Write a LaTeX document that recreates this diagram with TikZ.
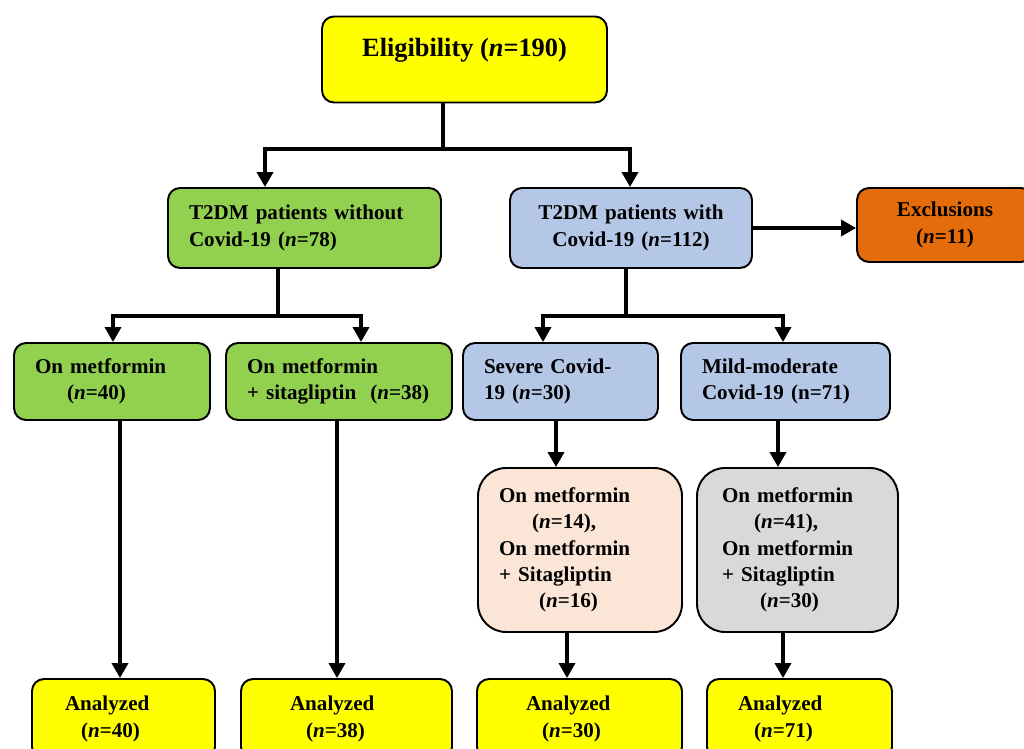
\documentclass[tikz,border=0pt]{standalone}
\usepackage{fontspec}
\setmainfont{Liberation Serif}
\usetikzlibrary{arrows.meta}
\definecolor{eligyellow}{HTML}{FFFF00}
\definecolor{nocovgreen}{HTML}{92D050}
\definecolor{covblue}{HTML}{B4C7E7}
\definecolor{exclorange}{HTML}{E46C0A}
\definecolor{severepeach}{HTML}{FBE5D6}
\definecolor{mildgrey}{HTML}{D9D9D9}
\begin{document}
\begin{tikzpicture}
		[x=0.02cm, y=-0.02cm,
		box/.style={draw, line width=1.1pt, rounded corners=0.24cm, inner xsep=0.42cm, inner ysep=2pt, align=left, font=\fontsize{12}{15}\selectfont\bfseries},
		result/.style={box, fill=eligyellow, minimum height=1.6cm},
		line/.style={line width=2.6pt, line join=miter},
		arr/.style={line, -{Triangle[width=0.32cm, length=0.3cm]}}]
		\useasboundingbox (0,0) rectangle (1024,749);
		
		\node[box, fill=eligyellow, minimum width=5.7cm, minimum height=1.72cm, align=center, inner xsep=0pt, font=\fontsize{15}{18}\selectfont\bfseries, text height=11pt, text depth=14.6pt] (elig) at (464.5,59.5) {Eligibility (\textit{n}=190)};
		
		\node[box, fill=nocovgreen, minimum width=5.46cm, minimum height=1.6cm, text width=4.62cm] (nocov) at (304.5,228) {T2DM patients without\\Covid-19 (\textit{n}=78)};
		\node[box, fill=covblue, minimum width=4.84cm, minimum height=1.6cm, text width=4cm, align=center] (cov) at (631,228) {T2DM patients with\\Covid-19 (\textit{n}=112)};
		\node[box, fill=exclorange, minimum width=3.52cm, minimum height=1.48cm, text width=2.68cm, align=center] (excl) at (945,225) {Exclusions\\(\textit{n}=11)};
		
		\node[box, fill=nocovgreen, minimum width=3.92cm, minimum height=1.54cm, text width=3.08cm] (met) at (112,381.5) {On metformin\\\hspace*{0.64cm}(\textit{n}=40)};
		\node[box, fill=nocovgreen, minimum width=4.52cm, minimum height=1.54cm, text width=3.68cm] (metsita) at (339,381.5) {On metformin\\+ sitagliptin\ \ (\textit{n}=38)};
		\node[box, fill=covblue, minimum width=3.9cm, minimum height=1.54cm, text width=3.06cm] (severe) at (560.5,381.5) {Severe Covid-\\19 (\textit{n}=30)};
		\node[box, fill=covblue, minimum width=4.18cm, minimum height=1.54cm, text width=3.34cm] (mild) at (785.5,381.5) {Mild-moderate\\Covid-19 (n=71)};
		
		\node[box, fill=severepeach, rounded corners=0.56cm, minimum width=4.08cm, minimum height=3.28cm, text width=3.24cm] (severetx) at (580,550) {On metformin\\\hspace*{0.66cm}(\textit{n}=14),\\On metformin\\+ Sitagliptin\\\hspace*{0.8cm}(\textit{n}=16)};
		\node[box, fill=mildgrey, rounded corners=0.56cm, minimum width=4.02cm, minimum height=3.28cm, inner xsep=0.5cm, text width=3.02cm] (mildtx) at (797.5,550) {On metformin\\\hspace*{0.64cm}(\textit{n}=41),\\On metformin\\+ Sitagliptin\\\hspace*{0.76cm}(\textit{n}=30)};
		
		\node[result, minimum width=3.66cm, inner xsep=0.66cm, text width=2.34cm] (an1) at (123.5,719) {Analyzed\\\hspace*{0.32cm}(\textit{n}=40)};
		\node[result, minimum width=4.22cm, inner xsep=0.98cm, text width=2.26cm] (an2) at (346.5,719) {Analyzed\\\hspace*{0.32cm}(\textit{n}=38)};
		\node[result, minimum width=4.1cm, inner xsep=0.98cm, text width=2.14cm] (an3) at (579.5,719) {Analyzed\\\hspace*{0.32cm}(\textit{n}=30)};
		\node[result, minimum width=3.7cm, inner xsep=0.62cm, text width=2.46cm] (an4) at (799.5,719) {Analyzed\\\hspace*{0.32cm}(\textit{n}=71)};
		
		\coordinate (split) at (443,149);
		\coordinate (splitl) at (265,149);
		\coordinate (splitr) at (630,149);
		\coordinate (nocovsplit) at (278,316);
		\coordinate (nocovl) at (113,316);
		\coordinate (nocovr) at (361,316);
		\coordinate (covsplit) at (626,316);
		\coordinate (covl) at (543,316);
		\coordinate (covr) at (783,316);
		
		\draw[line] (elig.south -| split) -- (split);
		\draw[arr] (split) -- (splitl) -- (nocov.north -| splitl);
		\draw[arr] (split) -- (splitr) -- (cov.north -| splitr);
		\draw[arr] (cov.east) -- (excl.west |- cov.east);
		
		\draw[line] (nocov.south -| nocovsplit) -- (nocovsplit);
		\draw[arr] (nocovsplit) -- (nocovl) -- (met.north -| nocovl);
		\draw[arr] (nocovsplit) -- (nocovr) -- (metsita.north -| nocovr);
		\draw[line] (cov.south -| covsplit) -- (covsplit);
		\draw[arr] (covsplit) -- (covl) -- (severe.north -| covl);
		\draw[arr] (covsplit) -- (covr) -- (mild.north -| covr);
		
		\draw[arr] ([xshift=0.16cm]met.south) -- ([xshift=0.16cm]met.south |- an1.north);
		\draw[arr] ([xshift=-0.04cm]metsita.south) -- ([xshift=-0.04cm]metsita.south |- an2.north);
		\draw[arr] ([xshift=-0.09cm]severe.south) -- ([xshift=-0.09cm]severe.south |- severetx.north);
		\draw[arr] ([xshift=-0.15cm]mild.south) -- ([xshift=-0.15cm]mild.south |- mildtx.north);
		\draw[arr] ([xshift=-0.26cm]severetx.south) -- ([xshift=-0.26cm]severetx.south |- an3.north);
		\draw[arr] ([xshift=-0.29cm]mildtx.south) -- ([xshift=-0.29cm]mildtx.south |- an4.north);
		\end{tikzpicture}
\end{document}
